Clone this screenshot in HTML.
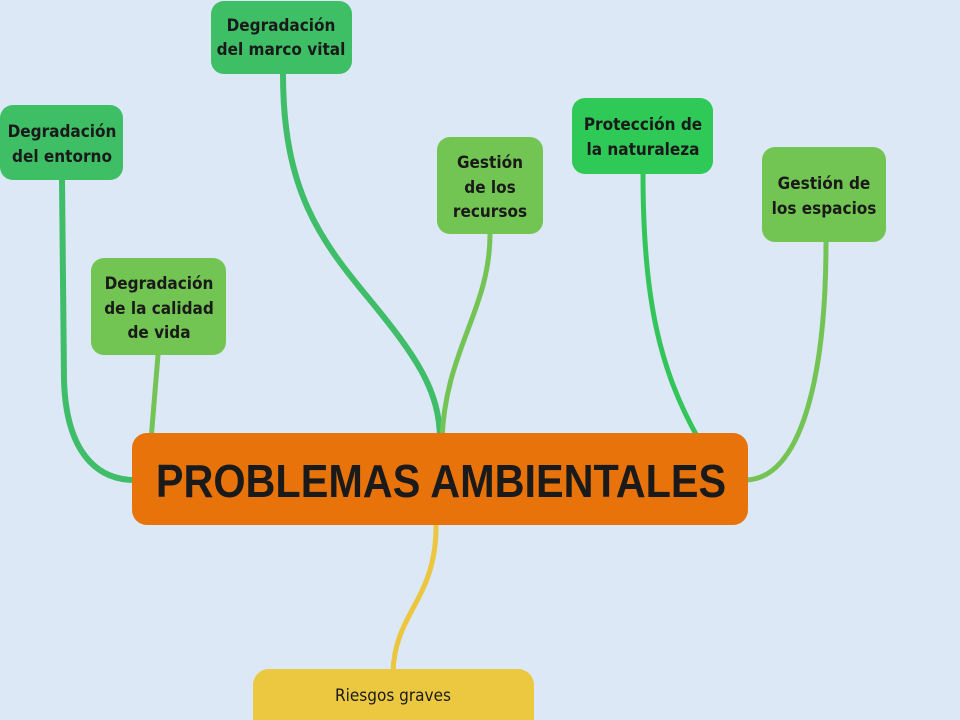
<!DOCTYPE html>
<html><head><meta charset="utf-8"><style>
html,body{margin:0;padding:0;background:#dde8f6;}
svg{display:block}
text{font-family:"DejaVu Sans Condensed","Liberation Sans",sans-serif;font-weight:bold;fill:#1a1a1a;text-anchor:middle;}
</style></head><body>
<svg width="960" height="720" viewBox="0 0 960 720" xmlns="http://www.w3.org/2000/svg">
<rect width="960" height="720" fill="#dde8f6"/>
<g fill="none" stroke-linecap="round">
<path d="M283,74 C283,190 320,240 370,300 C415,355 440,390 440,440" stroke="#3fbd68" stroke-width="6"/>
<path d="M62,180 L64,380 C66,450 95,480 135,480" stroke="#3fbd68" stroke-width="6"/>
<path d="M158,355 L151,440" stroke="#74c455" stroke-width="5"/>
<path d="M490,234 C490,310 445,350 442,440" stroke="#74c455" stroke-width="5"/>
<path d="M643,174 C643,300 660,370 698,438" stroke="#33c55a" stroke-width="5"/>
<path d="M826,242 C826,380 800,480 745,480" stroke="#74c455" stroke-width="5"/>
<path d="M436,520 C438,600 395,610 393,672" stroke="#ebc63e" stroke-width="5"/>
</g>
<rect x="132" y="433" width="616" height="92" rx="15" fill="#e8730a"/>
<text x="441" y="497" font-size="46" style="font-family:'Liberation Sans',sans-serif" transform="translate(441,0) scale(0.9,1) translate(-441,0)">PROBLEMAS AMBIENTALES</text>

<rect x="211" y="1" width="141" height="73" rx="13" fill="#3ebf66"/>
<text x="281" y="31" font-size="17">Degradación</text>
<text x="281" y="55" font-size="17">del marco vital</text>

<rect x="0" y="105" width="123" height="75" rx="13" fill="#3ebf66"/>
<text x="62" y="137" font-size="17">Degradación</text>
<text x="62" y="162" font-size="17">del entorno</text>

<rect x="91" y="258" width="135" height="97" rx="13" fill="#72c552"/>
<text x="159" y="289" font-size="17">Degradación</text>
<text x="159" y="314" font-size="17">de la calidad</text>
<text x="159" y="338" font-size="17">de vida</text>

<rect x="437" y="137" width="106" height="97" rx="13" fill="#72c552"/>
<text x="490" y="168" font-size="17">Gestión</text>
<text x="490" y="193" font-size="17">de los</text>
<text x="490" y="217" font-size="17">recursos</text>

<rect x="572" y="98" width="141" height="76" rx="13" fill="#2ec956"/>
<text x="643" y="130" font-size="17">Protección de</text>
<text x="643" y="155" font-size="17">la naturaleza</text>

<rect x="762" y="147" width="124" height="95" rx="13" fill="#72c552"/>
<text x="824" y="189" font-size="17">Gestión de</text>
<text x="824" y="214" font-size="17">los espacios</text>

<rect x="253" y="669" width="281" height="70" rx="16" fill="#ebc840"/>
<text x="393" y="701" font-size="17" style="font-weight:normal">Riesgos graves</text>
</svg>
</body></html>
